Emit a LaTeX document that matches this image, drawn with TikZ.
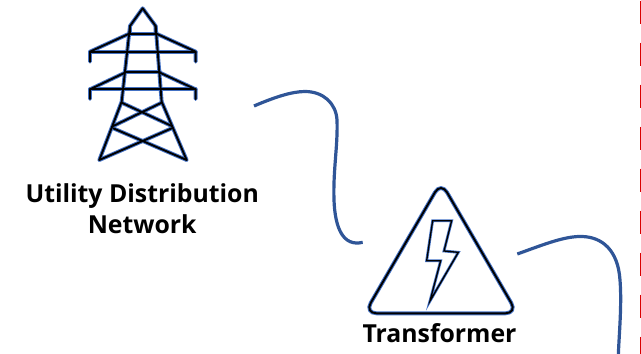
\documentclass[tikz,border=0pt]{standalone}
\usepackage{fontspec}
\setmainfont{Open Sans}
\definecolor{iconbluecol}{HTML}{4472C4}
\definecolor{wirecol}{HTML}{2F5597}
\tikzset{
  iconblue/.style={draw=iconbluecol,line width=3.9pt,line join=round,line cap=round},
  iconblack/.style={draw=black,line width=1.9pt,line join=round,line cap=round},
  wire/.style={draw=wirecol,line width=3.2pt},
  dashline/.style={draw=red!85!black,line width=1.3pt,dash pattern=on 23pt off 19pt,dash phase=-0.5pt},
  label/.style={font=\bfseries\fontsize{24.8pt}{31.6pt}\selectfont,align=center,inner sep=0pt,text=black}
}
\newcommand{\towerpaths}[1]{
  \draw[#1] (210,100)--(210,78)--(248,25)--(287,78)--(287,100);
  \draw[#1] (210,100)--(90,155)--(90,185);
  \draw[#1] (287,100)--(407,155)--(407,185);
  \draw[#1] (210,103)--(287,103);
  \draw[#1] (90,155)--(407,155);
  \draw[#1] (210,78)--(185,305)--(118,480);
  \draw[#1] (287,78)--(305,305)--(380,480);
  \draw[#1] (198,215)--(300,215);
  \draw[#1] (195,218)--(90,268)--(90,297);
  \draw[#1] (300,218)--(407,268)--(407,297);
  \draw[#1] (90,268)--(407,268);
  \draw[#1] (185,308)--(335,378);
  \draw[#1] (305,308)--(160,378);
  \draw[#1] (160,385)--(380,480);
  \draw[#1] (335,385)--(118,480);
}
\newcommand{\trianglepath}[1]{
  \draw[#1,rounded corners=12pt] (273,36)--(502,430)--(44,430)--cycle;
}
\newcommand{\boltpath}[1]{
  \draw[#1] (248,152)--(305,152)--(282,243)--(325,247)--(240,393)--(272,272)--(230,272)--cycle;
}
\begin{document}
\begin{tikzpicture}[x=1pt,y=-1pt]
\useasboundingbox (0,0) rectangle (641,354);
% tower
\begin{scope}[shift={(60,0)},x=0.3333pt,y=-0.3333pt]
  \towerpaths{iconblue}
  \towerpaths{iconblack}
\end{scope}
% triangle
\begin{scope}[shift={(350,170)},x=0.3333pt,y=-0.3333pt]
  \trianglepath{iconblue}
  \trianglepath{iconblack}
  \boltpath{draw=iconbluecol,line width=2.8pt,line join=miter}
  \boltpath{draw=black,line width=1.3pt,line join=miter}
\end{scope}
\node[label] (utility) at (142.2,208.5) {Utility Distribution\\Network};
\node[label,anchor=base] (transformer) at (439.5,342) {Transformer};
\coordinate (w1s) at (254,106);
\coordinate (w1e) at (362.7,242.3);
\coordinate (w2s) at (517.3,254);
\coordinate (w2e) at (618.3,356);
\draw[wire] (w1s) .. controls (275,97) and (292,91.5) .. (305,91.5)
  .. controls (323,91.5) and (336,103) .. (337,120)
  .. controls (338,145) and (333,170) .. (334,200)
  .. controls (335,228) and (343,247) .. (w1e);
\draw[wire] (w2s) .. controls (545,244) and (565,236) .. (582,236.5)
  .. controls (602,237) and (618,250) .. (620,280)
  .. controls (622,305) and (619,335) .. (w2e);
\coordinate (d1) at (640.2,0);
\coordinate (d2) at (640.2,354);
\draw[dashline] (d1)--(d2);
\end{tikzpicture}
\end{document}
